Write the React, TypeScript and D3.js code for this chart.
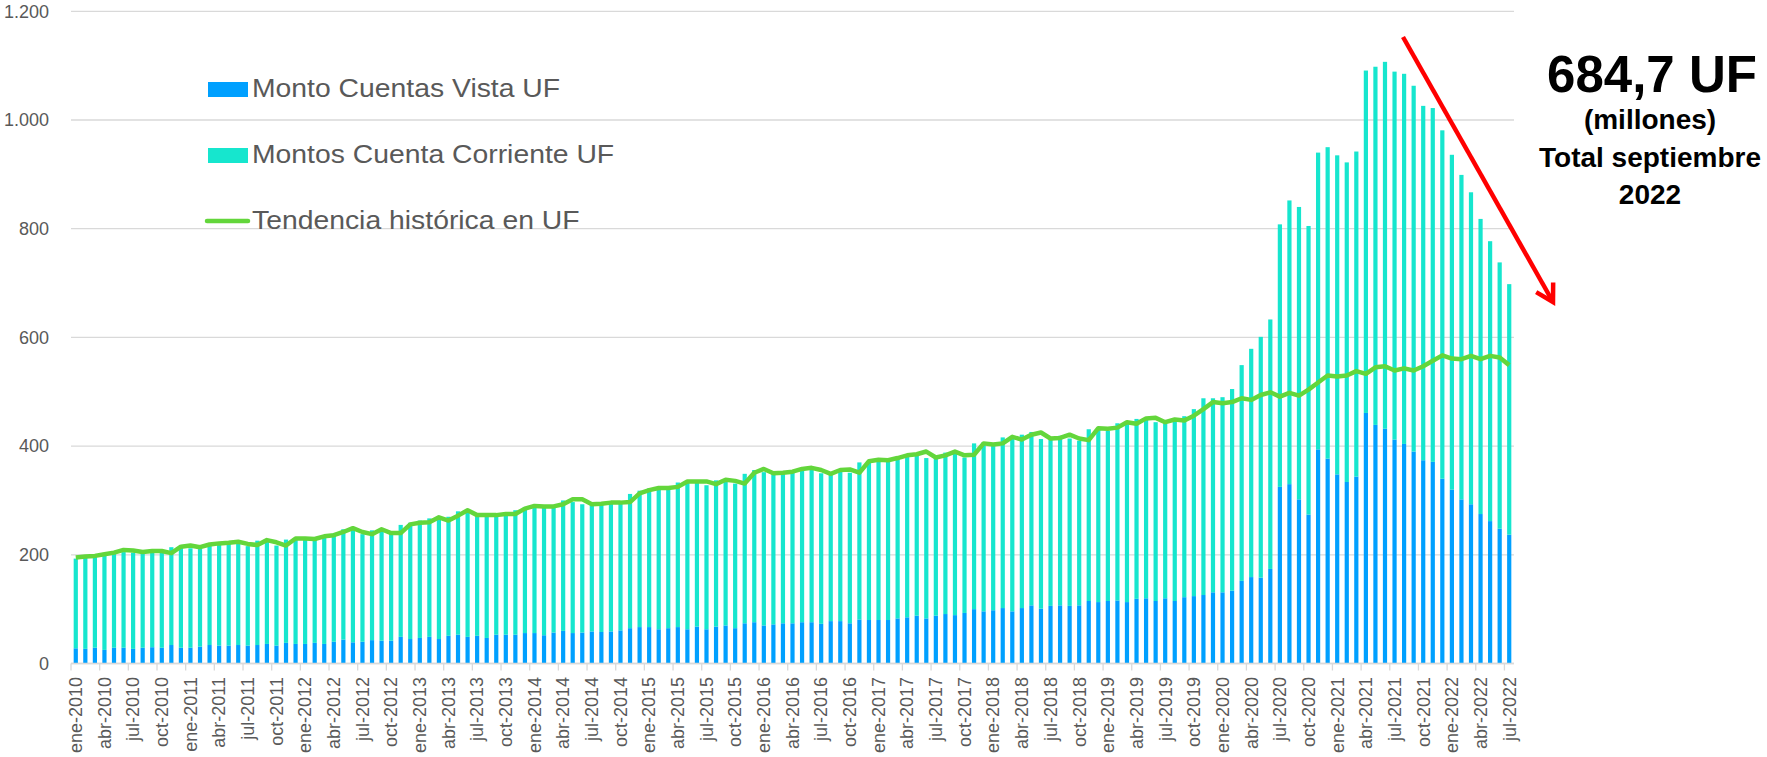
import * as d3 from 'd3';

// Montos mensuales en millones de UF, ene-2010 .. jul-2022
const MESES = ['ene', 'feb', 'mar', 'abr', 'may', 'jun', 'jul', 'ago', 'sep', 'oct', 'nov', 'dic'];
const ANIOS = [2010, 2011, 2012, 2013, 2014, 2015, 2016, 2017, 2018, 2019, 2020, 2021, 2022];
const categorias = ANIOS.flatMap((a) => MESES.map((m) => `${m}-${a}`)).slice(0, 151);

const vista = [
  28, 27, 29, 25, 29, 29, 27, 29, 30, 29, 34, 29, 29, 31, 34, 33, 33, 34, 33, 34,
  36, 33, 38, 36, 36, 38, 36, 40, 44, 39, 40, 43, 42, 42, 49, 45, 47, 49, 45, 51,
  53, 49, 51, 47, 53, 53, 53, 56, 56, 52, 57,
  60, 56, 57, 59, 58, 59, 61, 65, 67, 67, 63, 65, 67, 63, 68, 63, 68, 70, 65, 74,
  76, 70, 72, 74, 74, 76, 76, 73, 78, 78, 74, 81, 80, 80, 80, 83, 85, 88, 83, 88,
  91, 89, 93, 100, 96, 98, 102, 96, 102, 107,
  101, 106, 107, 106, 107, 115, 113, 115, 116, 113, 119, 120, 115, 120, 115, 122, 124, 126, 131, 131,
  134, 152, 159, 158, 174,
  325, 330, 302, 274, 394, 377, 348, 334, 344, 461, 439, 432, 412, 404, 390, 374, 371, 340, 320, 302,
  293, 275, 262, 248, 237,
];

const corriente = [
  165, 169, 168, 174, 173, 176, 177, 173, 174, 175, 180, 186, 183, 184, 184, 187, 189, 186, 183, 192,
  188, 184, 190, 194, 194, 192, 200, 199, 203, 209, 198, 202, 206, 197, 206, 214, 216, 218, 226, 219,
  227, 233, 222, 226, 220, 221, 229, 232, 235, 237, 232,
  240, 241, 236, 232, 235, 237, 235, 247, 251, 255, 262, 260, 266, 273, 268, 265, 269, 266, 266, 275,
  280, 282, 278, 277, 280, 284, 283, 277, 270, 275, 277, 289, 293, 295, 295, 298, 298, 296, 295, 291,
  297, 298, 286, 305, 311, 303, 314, 319, 319, 319,
  312, 306, 312, 308, 303, 316, 318, 313, 326, 331, 331, 329, 329, 322, 330, 333, 344, 362, 357, 359,
  371, 397, 420, 443, 459,
  483, 522, 538, 531, 546, 573, 587, 588, 598, 630, 659, 675, 677, 681, 673, 652, 651, 641, 616, 597,
  574, 543, 515, 490, 461,
];

const tendencia = [
  195, 197, 198, 201, 204, 209, 208, 205, 207, 207, 203, 215, 217, 214, 219, 221, 222, 224, 220, 218,
  227, 223, 217, 230, 230, 229, 234, 236, 242, 249, 242, 238, 247, 240, 240, 256, 259, 260, 269, 263,
  272, 282, 273, 273, 273, 275, 275, 285, 290, 289, 289,
  293, 302, 302, 293, 294, 296, 296, 297, 313, 319, 323, 323, 325, 335, 335, 335, 330, 338, 336, 331,
  351, 358, 350, 351, 353, 358, 360, 356, 349, 356, 357, 351, 372, 375, 374, 378, 383, 385, 390, 379,
  383, 390, 383, 384, 405, 403, 405, 417, 412, 421,
  425, 414, 415, 421, 414, 411, 433, 432, 434, 444, 441, 451, 452, 444, 449, 447, 456, 468, 481, 479,
  481, 488, 485, 494, 499, 491, 498,
  493, 504, 517, 530, 528, 530, 538, 533, 545, 547, 539, 543, 539, 547, 557, 567, 561, 560, 566, 560,
  566, 563, 549,
];

const yTicks = [0, 200, 400, 600, 800, 1000, 1200];
const leyenda = ['Monto Cuentas Vista UF', 'Montos Cuenta Corriente UF', 'Tendencia histórica en UF'];
const anotacion = ['684,7 UF', '(millones)', 'Total septiembre', '2022'];

const AZUL = '#00A0FF';
const TURQUESA = '#16E6CE';
const VERDE = '#63D63B';
const GRIS = '#595959';
const GRILLA = '#D9D9D9';
const FONT = '"Liberation Sans", Arial, sans-serif';

const fmt = d3.formatLocale({ decimal: ',', thousands: '.', grouping: [3], currency: ['$', ''] }).format(',');

const App = () => {
  const width = 1767;
  const height = 757;
  const left = 71;
  const right = 1514;

  const rows = categorias.map((c, i) => ({ cat: c, vista: vista[i], corriente: corriente[i] }));
  const series = d3.stack().keys(['vista', 'corriente'])(rows);

  const xScale = d3.scaleBand()
    .domain(categorias)
    .range([left, right])
    .paddingInner(0.56)
    .paddingOuter(0.28);
  const step = xScale.step();

  const yScale = d3.scaleLinear()
    .domain([0, 1200])
    .range([663.5, 11.3]);

  const line = d3.line()
    .x((d, i) => xScale(categorias[i]) + xScale.bandwidth() / 2)
    .y((d) => yScale(d));

  const colors = [AZUL, TURQUESA];
  const labelCats = categorias.filter((c, i) => i % 3 === 0);

  // flecha roja
  const a0 = [1403, 37];
  const a1 = [1553, 302];
  const ang = Math.atan2(a0[1] - a1[1], a0[0] - a1[0]);
  const head = [ang - Math.PI / 6, ang + Math.PI / 6].map((t) => [a1[0] + 19.5 * Math.cos(t), a1[1] + 19.5 * Math.sin(t)]);

  return (
    <svg width={width} height={height} style={{ position: 'absolute', left: 0, top: 0, background: '#fff' }} fontFamily={FONT}>
      {yTicks.map((t) => (
        <g key={t} transform={`translate(0,${yScale(t)})`}>
          <line x1={left} x2={right} stroke={GRILLA} strokeWidth={1.3} />
          <text x={49} dy="0.35em" textAnchor="end" fontSize={18} fill={GRIS}>{fmt(t)}</text>
        </g>
      ))}

      {series.map((s, k) => (
        <g key={s.key} fill={colors[k]}>
          {s.map((d, i) => (
            <rect
              key={i}
              x={xScale(categorias[i])}
              y={yScale(d[1])}
              width={xScale.bandwidth()}
              height={yScale(d[0]) - yScale(d[1])}
            />
          ))}
        </g>
      ))}

      <path d={line(tendencia)} fill="none" stroke={VERDE} strokeWidth={4.5} strokeLinejoin="round" />

      {/* eje x */}
      <line x1={left} x2={right} y1={yScale(0)} y2={yScale(0)} stroke={GRILLA} strokeWidth={1.5} />
      {labelCats.map((c) => {
        const bx = xScale(c) - (step - xScale.bandwidth()) / 2;
        return (
          <g key={c}>
            <line x1={bx} x2={bx} y1={yScale(0)} y2={yScale(0) + 7} stroke={GRILLA} strokeWidth={1.3} />
            <text
              transform={`translate(${xScale(c) + xScale.bandwidth() / 2},677) rotate(-90)`}
              textAnchor="end"
              dy="0.35em"
              fontSize={18}
              fill={GRIS}
            >{c}</text>
          </g>
        );
      })}

      {/* leyenda */}
      <rect x={208} y={82} width={40} height={15} fill={AZUL} />
      <rect x={208} y={148} width={40} height={15} fill={TURQUESA} />
      <line x1={207} x2={248} y1={221} y2={221} stroke={VERDE} strokeWidth={4.5} strokeLinecap="round" />
      {leyenda.map((l, i) => (
        <text key={l} transform={`translate(252,${97 + i * 66}) scale(1.09,1)`} fontSize={26} fill={GRIS}>{l}</text>
      ))}

      {/* anotación */}
      <line x1={a0[0]} y1={a0[1]} x2={a1[0]} y2={a1[1]} stroke="#FF0000" strokeWidth={4.5} />
      <polyline
        points={`${head[0][0]},${head[0][1]} ${a1[0]},${a1[1]} ${head[1][0]},${head[1][1]}`}
        fill="none"
        stroke="#FF0000"
        strokeWidth={4.5}
      />
      <g textAnchor="middle" fontWeight="bold" fill="#000">
        <text x={1652} y={92} fontSize={51}>{anotacion[0]}</text>
        <text x={1650} y={129} fontSize={28}>{anotacion[1]}</text>
        <text x={1650} y={167} fontSize={28}>{anotacion[2]}</text>
        <text x={1650} y={204} fontSize={28}>{anotacion[3]}</text>
      </g>
    </svg>
  );
};

export default App;
